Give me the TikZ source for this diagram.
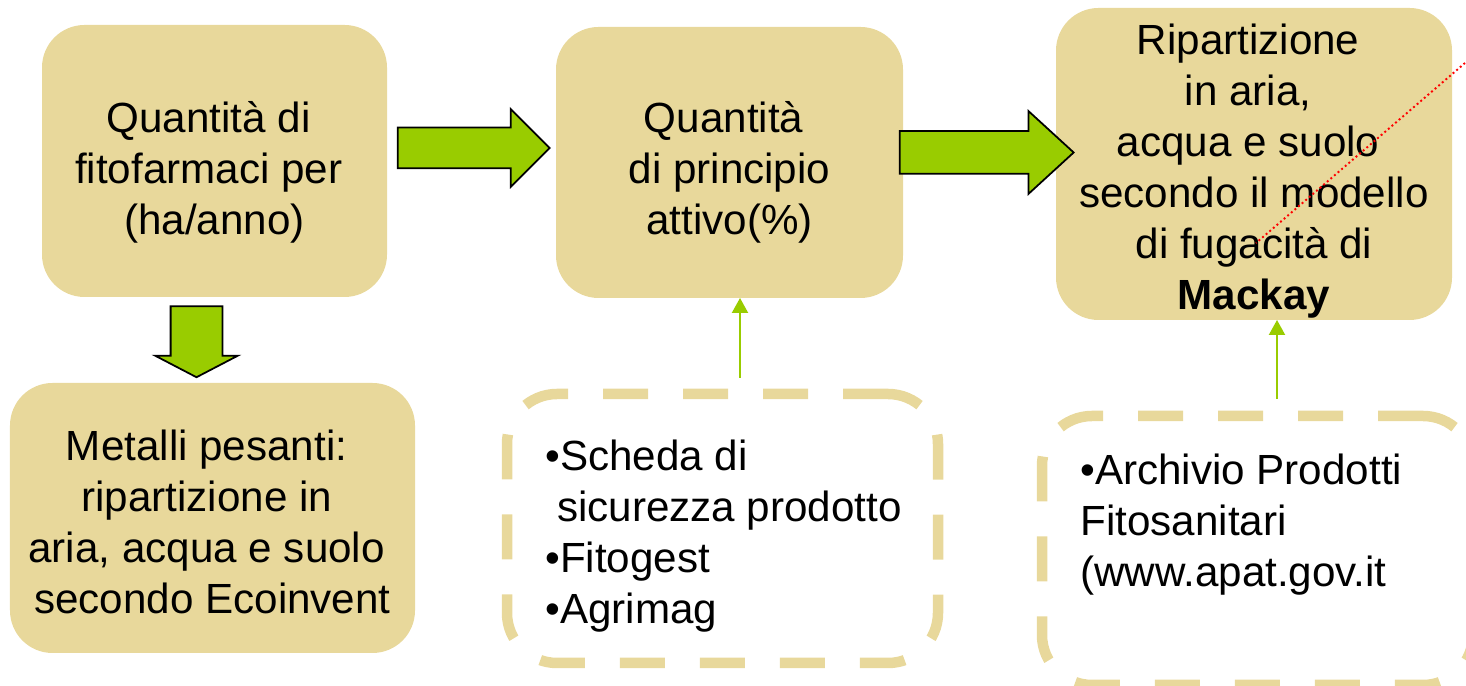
\documentclass[tikz,border=0pt]{standalone}
\usepackage{fontspec}
\setmainfont{Liberation Sans}
\usetikzlibrary{shapes.arrows,calc,arrows.meta}
\definecolor{boxtan}{HTML}{E8D89B}
\definecolor{leafgreen}{HTML}{99CC00}
\newcommand{\tsp}{\kern0.278em}

\begin{document}
\begin{tikzpicture}[
  every node/.style={font=\fontsize{24}{29}\selectfont},
  tanbox/.style={fill=boxtan, rounded corners=0.85cm, inner sep=0pt, outer sep=0pt},
  srcbox/.style={draw=boxtan, line width=0.21cm, dash pattern=on 0.9cm off 0.7cm,
    rounded corners=1cm, minimum width=8.62cm, minimum height=5.38cm, inner sep=0pt, outer sep=0pt},
  boxtxt/.style={align=center, inner sep=0pt},
  srctxt/.style={align=left, inner sep=0pt, anchor=north west},
  bigarrow/.style={shape=single arrow, fill=leafgreen, draw=black, line width=1pt,
    inner xsep=0pt, outer sep=0pt, single arrow head indent=0pt},
  thinarrow/.style={draw=leafgreen, line width=1.2pt, -{Triangle[width=0.32cm,length=0.3cm]}}
]
\useasboundingbox (0,0) rectangle (29.32,13.72);

\node[tanbox, minimum width=6.9cm, minimum height=5.44cm] (qfito) at (4.29,10.5) {};
\node[tanbox, minimum width=6.94cm, minimum height=5.42cm] (qprin) at (14.59,10.47) {};
\node[tanbox, minimum width=7.92cm, minimum height=6.24cm] (ripart) at (25.08,10.44) {};
\node[tanbox, minimum width=8.1cm, minimum height=5.4cm] (metal) at (4.25,3.36) {};

\node[srcbox] (schede) at (14.45,3.15) {};
\node[srcbox] (archivio) at (25.15,2.71) {};

\node[bigarrow, minimum height=3.04cm, inner ysep=0.39cm, single arrow head extend=0.37cm]
  (arrAB) at ($(qfito.east)!0.5!(qprin.west)+(-0.16,0.275)$) {};
\node[bigarrow, minimum height=3.48cm, inner ysep=0.41cm, single arrow head extend=0.4cm,
  single arrow tip angle=85] (arrBC) at ($(qprin.east)!0.5!(ripart.west)+(-0.09,0.215)$) {};
\node[bigarrow, rotate=-90, minimum height=1.42cm, inner ysep=0.5cm, single arrow head extend=0.31cm,
  single arrow tip angle=125] (arrAD) at ($(qfito.south)!0.5!(metal.north)+(-0.34,0.1)$) {};

\node[boxtxt] (qfitotxt) at ([yshift=-0.22cm]qfito.center)
  {Quantità di\tsp\\fitofarmaci per\tsp\\(ha/anno)};
\node[boxtxt] (qprintxt) at ([yshift=-0.19cm]qprin.center)
  {Quantità\tsp\\di principio\\attivo(\%)};
\node[boxtxt] (riparttxt) at ([yshift=-0.14cm]ripart.center)
  {Ripartizione\tsp\\in aria,\tsp\\acqua e suolo\tsp\\secondo il modello\\di fugacità di\\\textbf{Mackay}};
\node[boxtxt] (metaltxt) at ([yshift=-0.08cm]metal.center)
  {Metalli pesanti:\tsp\\ripartizione in\tsp\\aria, acqua e suolo\tsp\\secondo Ecoinvent};

\node[srctxt] (schedetxt) at ([shift={(0.76,-0.92)}]schede.north west)
  {•Scheda di\\\tsp sicurezza prodotto\\•Fitogest\\•Agrimag};
\node[srctxt] (archiviotxt) at ([shift={(0.76,-0.76)}]archivio.north west)
  {•Archivio Prodotti\\Fitosanitari\\(www.apat.gov.it};

\coordinate (fromschede) at ([xshift=0.35cm,yshift=0.32cm]schede.north);
\coordinate (fromarchivio) at ([xshift=0.39cm,yshift=0.34cm]archivio.north);
\draw[thinarrow] (fromschede) -- (fromschede |- qprin.south);
\draw[thinarrow] (fromarchivio) -- (fromarchivio |- ripart.south);

\draw[red, line width=1.1pt, dash pattern=on 1.1pt off 1.6pt] (29.3,12.46) -- (25.12,8.86);
\end{tikzpicture}
\end{document}
